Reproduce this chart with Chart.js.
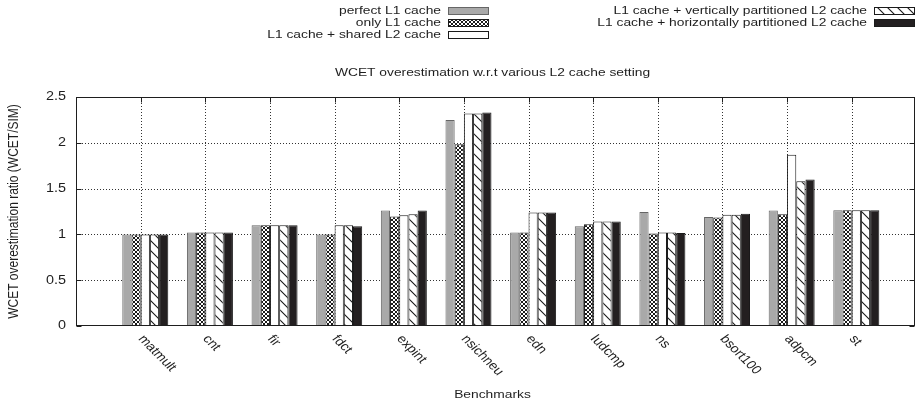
<!DOCTYPE html>
<html>
<head>
<meta charset="utf-8">
<script src="https://cdn.jsdelivr.net/npm/chart.js@4.4.1/dist/chart.umd.min.js"></script>
<style>
  html, body { margin: 0; padding: 0; background: #fff; }
  canvas { display: block; }
</style>
</head>
<body>
<canvas id="chart" width="922" height="410"></canvas>
<script>
// Benchmarks and WCET/SIM ratios per cache configuration
const benchmarks = ['matmult', 'cnt', 'fir', 'fdct', 'expint', 'nsichneu', 'edn', 'ludcmp', 'ns', 'bsort100', 'adpcm', 'st'];
const perfectL1    = [1.00, 1.02, 1.10, 1.00, 1.26, 2.25, 1.02, 1.09, 1.245, 1.19, 1.26, 1.265];
const onlyL1       = [1.00, 1.02, 1.10, 1.00, 1.195, 1.985, 1.02, 1.11, 1.01, 1.185, 1.22, 1.265];
const sharedL2     = [1.00, 1.02, 1.10, 1.10, 1.21, 2.32, 1.24, 1.14, 1.02, 1.215, 1.87, 1.265];
const verticalL2   = [1.00, 1.02, 1.10, 1.10, 1.22, 2.32, 1.24, 1.14, 1.02, 1.215, 1.58, 1.265];
const horizontalL2 = [1.00, 1.02, 1.10, 1.09, 1.26, 2.33, 1.24, 1.14, 1.015, 1.225, 1.60, 1.265];
const seriesNames = [
  'perfect L1 cache',
  'only L1 cache',
  'L1 cache + shared L2 cache',
  'L1 cache + vertically partitioned L2 cache',
  'L1 cache + horizontally partitioned L2 cache'
];
const yTicks = [0, 0.5, 1, 1.5, 2, 2.5];
const yTickLabels = ['0', '0.5', '1', '1.5', '2', '2.5'];
const chartTitle = 'WCET overestimation w.r.t various L2 cache setting';
const xTitle = 'Benchmarks';
const yTitle = 'WCET overestimation ratio (WCET/SIM)';

const INK = '#1e1e1e';
const FONT = '"Liberation Sans", Arial, Helvetica, sans-serif';
const SX = 1.2; // wide text

function makePattern(size, drawFn) {
  const c = document.createElement('canvas');
  c.width = size; c.height = size;
  const g = c.getContext('2d');
  drawFn(g, size);
  return document.getElementById('chart').getContext('2d').createPattern(c, 'repeat');
}
// small cross-hatch (diamond lattice)
const crossPattern = makePattern(4, (g, s) => {
  g.fillStyle = '#fff'; g.fillRect(0, 0, s, s);
  g.fillStyle = '#1a1a1a';
  for (let i = 0; i < s; i++) { g.fillRect(i, i, 1, 1); g.fillRect(s - 1 - i, i, 1, 1); }
});
// backslash diagonal lines
const diagPattern = makePattern(10, (g, s) => {
  g.fillStyle = '#fff'; g.fillRect(0, 0, s, s);
  g.strokeStyle = '#1a1a1a'; g.lineWidth = 1.1;
  g.beginPath();
  g.moveTo(-1, -1); g.lineTo(s + 1, s + 1);
  g.moveTo(-1, s - 1); g.lineTo(1, s + 1);
  g.moveTo(s - 1, -1); g.lineTo(s + 1, 1);
  g.stroke();
});

const fills   = ['#a9a9a9', crossPattern, '#ffffff', diagPattern, '#231f20'];
const borders = ['#666666', '#1a1a1a', '#1a1a1a', '#1a1a1a', '#1a1a1a'];
const seriesValues = [perfectL1, onlyL1, sharedL2, verticalL2, horizontalL2];

function wideText(ctx, text, x, y, opt) {
  const o = Object.assign({ align: 'center', baseline: 'middle', angle: 0, size: 11.5 }, opt || {});
  ctx.save();
  ctx.translate(x, y);
  ctx.scale(SX, 1);
  ctx.rotate(o.angle);
  ctx.font = o.size + 'px ' + FONT;
  ctx.textAlign = o.align;
  ctx.textBaseline = o.baseline;
  ctx.fillStyle = INK;
  ctx.fillText(text, 0, 0);
  ctx.restore();
}

function dottedLine(ctx, x1, y1, x2, y2) {
  ctx.save();
  ctx.strokeStyle = '#333';
  ctx.lineWidth = 1;
  ctx.setLineDash([1, 2]);
  ctx.beginPath();
  ctx.moveTo(x1, y1); ctx.lineTo(x2, y2);
  ctx.stroke();
  ctx.restore();
}

// x position of each benchmark's tic: the boundary between the 2nd and 3rd bar of its cluster
function clusterTics(chart) {
  const meta = chart.getDatasetMeta(2);
  return meta.data.map(el => {
    const p = el.getProps(['x', 'width'], true);
    return p.x - p.width / 2;
  });
}

const gridPlugin = {
  id: 'gnuplotGrid',
  beforeDatasetsDraw(chart) {
    const { ctx, chartArea: a, scales: { y } } = chart;
    yTicks.forEach(v => {
      if (v === 0 || v === 2.5) return;
      const py = Math.round(y.getPixelForValue(v)) + 0.5;
      dottedLine(ctx, a.left, py, a.right, py);
    });
    clusterTics(chart).forEach(tx => {
      const px = Math.round(tx) + 0.5;
      dottedLine(ctx, px, a.top, px, a.bottom);
    });
  },
  afterDraw(chart) {
    const { ctx, chartArea: a, scales: { y } } = chart;
    const L = Math.round(a.left) + 0.5, R = Math.round(a.right) - 0.5;
    const T = Math.round(a.top) + 0.5, B = Math.round(a.bottom) - 0.5;
    ctx.save();
    ctx.strokeStyle = INK;
    ctx.lineWidth = 1;
    ctx.strokeRect(L, T, R - L, B - T);
    // inward tic marks
    ctx.beginPath();
    yTicks.forEach(v => {
      const py = Math.round(y.getPixelForValue(v)) + 0.5;
      ctx.moveTo(L, py); ctx.lineTo(L + 5, py);
      ctx.moveTo(R, py); ctx.lineTo(R - 5, py);
    });
    clusterTics(chart).forEach(tx => {
      const px = Math.round(tx) + 0.5;
      ctx.moveTo(px, T); ctx.lineTo(px, T + 5);
    });
    ctx.stroke();
    ctx.restore();

    // y tick labels
    yTicks.forEach((v, i) => {
      wideText(ctx, yTickLabels[i], a.left - 10, y.getPixelForValue(v), { align: 'right', size: 12 });
    });
    // benchmark labels, slanted
    const ang = Math.atan(SX);
    clusterTics(chart).forEach((tx, i) => {
      wideText(ctx, benchmarks[i], tx, a.bottom + 11, { align: 'left', angle: ang, size: 12 });
    });
    const cx = (a.left + a.right) / 2;
    wideText(ctx, chartTitle, cx - 3, 73);
    wideText(ctx, xTitle, cx - 3, 395);
    wideText(ctx, yTitle, 14, (a.top + a.bottom) / 2, { angle: -Math.PI / 2, size: 12 });

    // key
    const rows = [[441, 11], [441, 23], [441, 35], [867, 11], [867, 23]];
    chart.data.datasets.forEach((ds, i) => {
      const [tr, ty] = rows[i];
      wideText(ctx, ds.label, tr, ty, { align: 'right' });
      const sx = tr + 7, sw = 40, sh = 6;
      ctx.save();
      ctx.fillStyle = ds.backgroundColor;
      ctx.fillRect(sx, ty - 3, sw, sh);
      ctx.strokeStyle = ds.borderColor;
      ctx.lineWidth = 1;
      ctx.strokeRect(sx + 0.5, ty - 3.5, sw, sh + 1);
      ctx.restore();
    });
  }
};

const datasets = seriesNames.map((name, k) => ({
  label: name,
  data: seriesValues[k].map((v, i) => ({ x: i, y: v })),
  backgroundColor: fills[k],
  borderColor: borders[k],
  borderWidth: 1,
  borderSkipped: 'bottom',
  barPercentage: 1,
  categoryPercentage: 0.7116
}));

new Chart(document.getElementById('chart'), {
  type: 'bar',
  data: { datasets },
  options: {
    responsive: false,
    animation: false,
    layout: { padding: { left: 0, right: 7, top: 97, bottom: 0 } },
    plugins: { legend: { display: false }, tooltip: { enabled: false }, title: { display: false } },
    scales: {
      x: {
        type: 'linear',
        offset: false,
        min: -1.072,
        max: 11.908,
        ticks: { display: false },
        grid: { display: false },
        border: { display: false },
        afterBuildTicks: s => { s.ticks = benchmarks.map((_, i) => ({ value: i })); },
        afterFit: s => { s.height = 84; }
      },
      y: {
        min: 0,
        max: 2.5,
        ticks: { display: false },
        grid: { display: false },
        border: { display: false },
        afterBuildTicks: s => { s.ticks = yTicks.map(v => ({ value: v })); },
        afterFit: s => { s.width = 76; }
      }
    }
  },
  plugins: [gridPlugin]
});
</script>
</body>
</html>
